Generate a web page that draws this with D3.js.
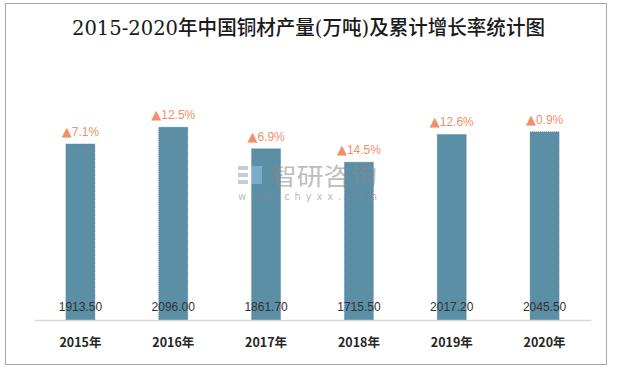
<!DOCTYPE html>
<html><head><meta charset="utf-8">
<script src="https://cdn.jsdelivr.net/npm/d3@7"></script>
<style>body{margin:0;background:#fff}svg{display:block}</style>
</head><body>
<svg id="chart" width="617" height="368"></svg>
<script>
const categories = ["2015年","2016年","2017年","2018年","2019年","2020年"];
const production = [1913.50, 2096.00, 1861.70, 1715.50, 2017.20, 2045.50];
const growth = ["7.1%","12.5%","6.9%","14.5%","12.6%","0.9%"];
const title = "2015-2020年中国铜材产量(万吨)及累计增长率统计图";

const svg = d3.select("#chart");
svg.append("rect").attr("x",5.5).attr("y",3.5).attr("width",601).attr("height",361)
  .attr("fill","#fff").attr("stroke","#a6a6a6").attr("stroke-width",1);

svg.append("text").attr("x",308.5).attr("y",35).attr("text-anchor","middle")
  .attr("font-family","'DejaVu Serif','Noto Sans CJK SC',serif").attr("font-size",20).attr("font-weight",500)
  .attr("fill","#1a1a1a").attr("textLength",473).attr("lengthAdjust","spacingAndGlyphs").text(title);

const x = d3.scaleBand().domain(categories).range([34,591]).paddingInner(0.687).paddingOuter(0.3435);
const y = d3.scaleLinear().domain([0,2500]).range([320,90]);

// bars
svg.append("g").selectAll("rect").data(production).join("rect")
  .attr("x",(d,i)=>x(categories[i])).attr("y",d=>y(d))
  .attr("width",x.bandwidth()).attr("height",d=>y(0)-y(d))
  .attr("fill","#5b8fa6").attr("stroke","#4f7f95").attr("stroke-width",0.6).attr("stroke-dasharray","1,1");

// watermark (drawn over bars)
const wm = svg.append("g").attr("opacity",0.55);
wm.append("rect").attr("x",238).attr("y",166).attr("width",10).attr("height",4).attr("fill","#8fa3c4");
wm.append("rect").attr("x",238).attr("y",173).attr("width",10).attr("height",4).attr("fill","#8fa3c4");
wm.append("rect").attr("x",238).attr("y",180).attr("width",10).attr("height",4).attr("fill","#8fa3c4");
wm.append("rect").attr("x",251).attr("y",166).attr("width",11).attr("height",18).attr("fill","#9cc3e8");
wm.append("text").attr("x",270).attr("y",185).attr("font-family","'Noto Sans CJK SC'").attr("font-size",24)
  .attr("fill","#888").attr("textLength",107).attr("lengthAdjust","spacingAndGlyphs").text("智研咨询");
wm.append("text").attr("x",238).attr("y",200).attr("font-family","'DejaVu Sans'").attr("font-size",10)
  .attr("fill","#888").attr("textLength",139).attr("lengthAdjust","spacing").text("www.chyxx.com");

// axis
const xAxis = d3.axisBottom(x).tickSize(0).tickPadding(18);
const ax = svg.append("g").attr("transform","translate(0,320)").call(xAxis);
ax.select(".domain").attr("stroke","#d9d9d9").attr("stroke-width",1.5);
ax.selectAll("text").attr("font-family","'Noto Sans CJK SC'").attr("font-size",12.5)
  .attr("font-weight","bold").attr("fill","#262626");

// value labels
svg.append("g").selectAll("text").data(production).join("text")
  .attr("x",(d,i)=>x(categories[i])+x.bandwidth()/2).attr("y",311)
  .attr("text-anchor","middle").attr("font-family","'Liberation Sans'").attr("font-size",12)
  .attr("fill","#333").text(d=>d.toFixed(2));

// growth labels
const gl = svg.append("g").selectAll("text").data(growth).join("text")
  .attr("x",(d,i)=>x(categories[i])+x.bandwidth()/2).attr("y",(d,i)=>y(production[i])-8)
  .attr("text-anchor","middle").attr("font-family","'Liberation Sans'").attr("font-size",12)
  .attr("fill","#f0906a");
gl.append("tspan").attr("font-family","'DejaVu Sans'").attr("font-size",13).text("▲");
gl.append("tspan").text(d=>d);
</script>
</body></html>
